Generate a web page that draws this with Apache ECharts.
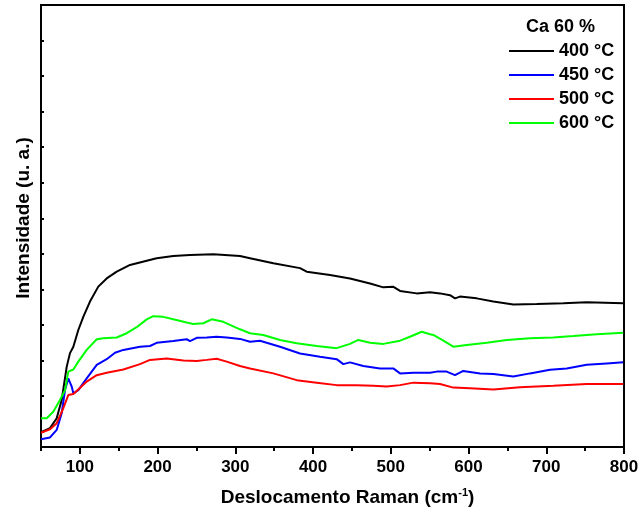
<!DOCTYPE html>
<html><head><meta charset="utf-8">
<script src="https://cdn.jsdelivr.net/npm/echarts@6/dist/echarts.min.js"></script>
<style>html,body{margin:0;padding:0;background:#fff}#c{width:643px;height:517px}</style>
</head><body><div id="c"></div>
<script>
// Raman shift (cm-1) and intensity (a.u.) per series
const blackX = [50,61.6,70.2,76.6,83.1,87.3,91.6,98,104.4,113,123.7,134.5,147.4,164.5,186,198.8,220.2,241.7,271.7,306,318.9,348.9,383.2,391.8,421.8,447.5,473.3,490.4,502.9,511.9,533.3,550.5,563.3,576.2,582.6,589,610.5,631.9,657.6,687.7,722,752,799];
const blackY = [-1,10,38,89,183,221,239,286,323,366,408,431,450,469,481,488,494,497,499,494,488,474,460,450,441,431,417,406,408,396,389,392,389,384,375,380,375,366,358,359,361,364,361];

const blueX = [50,61.6,70.2,76.6,80.9,85.1,89.5,91.6,98,108.8,121.7,134.5,145.2,155.9,177.4,190.2,198.8,220.2,237.4,241.7,250.3,263.2,276,288.9,306,318.9,331.7,357.5,383.2,408.9,430.4,438.9,447.5,464.6,486.1,503.2,511.9,529,550.5,559.1,571.9,582.6,593.3,614.8,631.9,657.6,679.1,704.8,726.3,752,777.8,799];
const blueY = [-21,-16,5,52,117,150,127,108,117,150,188,204,222,230,239,241,250,255,260,255,264,265,267,265,261,253,256,239,220,211,204,190,195,185,178,178,164,166,166,169,169,159,171,164,162,155,164,174,178,188,192,195];

const redX = [50,61.6,70.2,78.7,85.1,91.6,98,108.8,121.7,134.5,155.9,177.4,190.2,211.7,233.1,250.3,263.2,276,288.9,306,318.9,348.9,379,404.7,430.4,456.1,477.5,494.7,511.9,529,550.5,563.3,580.4,601.9,631.9,666.2,709,752,799];
const redY = [-3,7,24,66,103,106,119,141,159,166,175,190,202,206,200,199,202,205,197,185,178,164,145,138,131,131,129,127,131,138,136,134,124,122,119,125,129,134,134];

const greenX = [50,57.3,65.8,74.4,80.9,85.1,91.6,98,108.8,121.7,130.1,147.4,160.3,173.1,186,194.5,207.3,220.2,237.4,245.9,258.8,269.6,284.5,306,318.9,336,357.5,379,404.7,430.4,447.5,458.2,473.3,490.4,511.9,524.7,539.8,550.5,554.7,567.6,580.4,597.7,623.4,649.1,679.1,709,734.8,764.9,799];
const greenY = [38,38,56,89,117,169,175,197,230,260,263,265,277,294,316,325,323,316,307,303,305,316,309,288,277,272,258,249,241,235,247,258,250,247,256,267,281,274,272,256,239,244,250,258,263,265,269,274,278];

const seriesNames = ['400 °C','450 °C','500 °C','600 °C'];
const seriesColors = ['#000000','#0000ff','#ff0000','#00ff00'];
const xTicks = [100,200,300,400,500,600,700,800];
const xMinorTicks = [50,150,250,350,450,550,650,750];
const yTicks = [0,100,200,300,400,500,600,700,800,900,1000,1100,1200];

const zip = (xs, ys) => xs.map((x, i) => [x, ys[i]]);
const allData = [zip(blackX, blackY), zip(blueX, blueY), zip(redX, redY), zip(greenX, greenY)];

const FONT = '"Liberation Sans", Arial, sans-serif';
const chart = echarts.init(document.getElementById('c'), null, {renderer: 'canvas'});
chart.setOption({
  animation: false,
  backgroundColor: '#fff',
  grid: {left: 41, top: 5, right: 19, bottom: 70, show: true, borderColor: '#000', borderWidth: 2, containLabel: false},
  legend: {
    orient: 'vertical', left: 508, top: 42, padding: 0,
    itemWidth: 45, itemHeight: 18, itemGap: 6,
    data: seriesNames,
    itemStyle: {opacity: 0},
    lineStyle: {width: 2},
    textStyle: {fontFamily: FONT, fontWeight: 'bold', fontSize: 18, color: '#000'}
  },
  graphic: [{
    type: 'text', left: 526, top: 18,
    style: {text: 'Ca 60 %', fontFamily: FONT, fontWeight: 'bold', fontSize: 18, fill: '#000'}
  }],
  xAxis: [{
    type: 'value', min: 50, max: 800, position: 'bottom',
    axisLine: {show: true, onZero: false, lineStyle: {color: '#000', width: 2}},
    axisTick: {show: true, length: 7, lineStyle: {color: '#000', width: 2}, customValues: xTicks},
    axisLabel: {show: true, customValues: xTicks, margin: 12, color: '#000', fontFamily: FONT, fontWeight: 'bold', fontSize: 17},
    splitLine: {show: false},
    name: '{t|Deslocamento Raman (cm}{s|-1}{t|)}',
    nameLocation: 'middle', nameGap: 40,
    nameTextStyle: {
      padding: [0, 0, 0, 30],
      rich: {
        t: {fontFamily: FONT, fontWeight: 'bold', fontSize: 19, color: '#000', lineHeight: 22},
        s: {fontFamily: FONT, fontWeight: 'bold', fontSize: 11, color: '#000', verticalAlign: 'top'}
      }
    }
  }, {
    type: 'value', min: 50, max: 800, position: 'bottom',
    axisLine: {show: false, onZero: false},
    axisTick: {show: true, length: 4, lineStyle: {color: '#000', width: 2}, customValues: xMinorTicks},
    axisLabel: {show: false},
    splitLine: {show: false}
  }],
  yAxis: {
    type: 'value', min: -43, max: 1200,
    axisLine: {show: true, onZero: false, lineStyle: {color: '#000', width: 2}},
    axisTick: {show: true, inside: true, length: 3, lineStyle: {color: '#000', width: 2}, customValues: yTicks},
    axisLabel: {show: false},
    splitLine: {show: false},
    name: 'Intensidade (u. a.)',
    nameLocation: 'middle', nameRotate: 90, nameGap: 8,
    nameTextStyle: {fontFamily: FONT, fontWeight: 'bold', fontSize: 19, color: '#000', padding: [0, 0, 0, 16]}
  },
  series: allData.map((d, i) => ({
    name: seriesNames[i], type: 'line', data: d, xAxisIndex: 0,
    symbol: 'none', smooth: false,
    lineStyle: {color: seriesColors[i], width: 2},
    itemStyle: {color: seriesColors[i]},
    z: 2 + i
  }))
});
</script></body></html>
